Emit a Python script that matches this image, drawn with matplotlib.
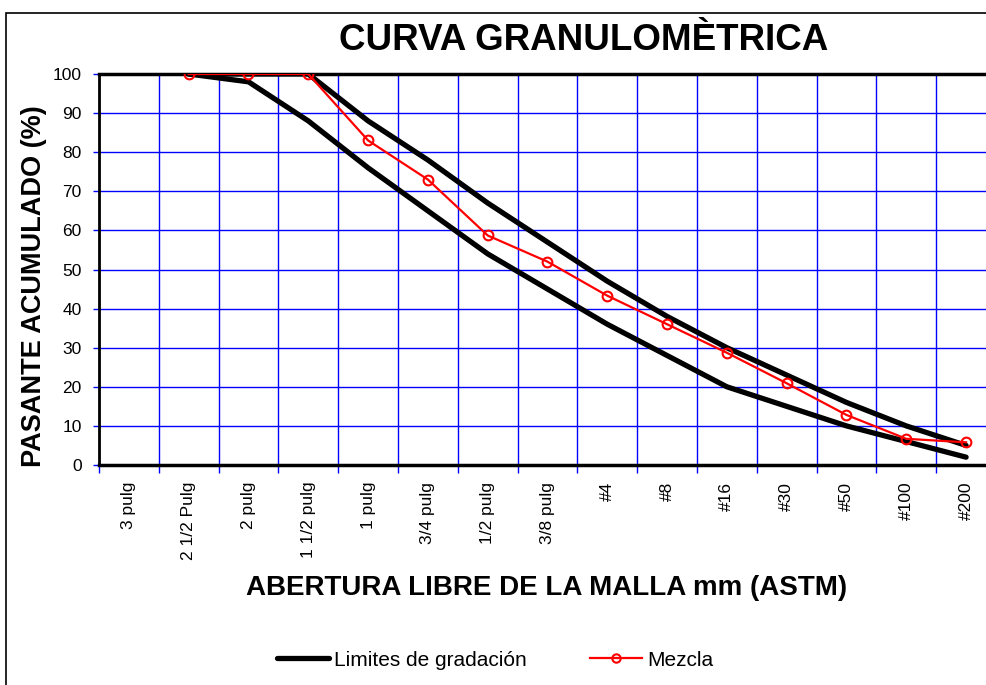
import numpy as np
import matplotlib.pyplot as plt
from matplotlib.lines import Line2D
from matplotlib.patches import Rectangle

plt.rcParams['font.family'] = ['Liberation Sans', 'DejaVu Sans']

# Data
tamices = ["3 pulg", "2 1/2 Pulg", "2 pulg", "1 1/2 pulg", "1 pulg", "3/4 pulg",
           "1/2 pulg", "3/8 pulg", "#4", "#8", "#16", "#30", "#50", "#100", "#200"]
lim_sup = [np.nan, 100, 100, 100, 88, 78, 67, 57, 47, 38, 30, 23, 16, 10, 5]
lim_inf = [np.nan, 100, 98, 88, 76, 65, 54, 45, 36, 28, 20, 15, 10, 6, 2]
mezcla = [np.nan, 100, 100, 100, 83, 73, 58.7, 52, 43.3, 36, 28.7, 20.9, 12.8, 6.7, 5.8]

fig = plt.figure(figsize=(9.87, 6.85), dpi=100)
ax = fig.add_axes([99 / 987, 1 - 465 / 685, 897 / 987, 391 / 685])

x = np.arange(len(tamices))

# Grid
ax.set_xlim(-0.5, len(tamices) - 0.5)
ax.set_ylim(0, 100)
ax.set_yticks(np.arange(0, 101, 10))
ax.set_xticks(x)
ax.set_xticks(np.arange(-0.5, len(tamices), 1), minor=True)
ax.grid(True, which='minor', axis='x', color='#0000ff', lw=1)
ax.grid(True, which='major', axis='y', color='#0000ff', lw=1)
ax.set_axisbelow(True)

# Curves
ax.plot(x, lim_sup, color='black', lw=3.8, solid_capstyle='round', zorder=3)
ax.plot(x, lim_inf, color='black', lw=3.8, solid_capstyle='round', zorder=3)
ax.plot(x, mezcla, color='red', lw=1.6, marker='o', ms=7, mfc='none',
        mec='red', mew=1.5, zorder=4)

# Axes styling
for s in ['left', 'top', 'bottom']:
    ax.spines[s].set_color('black')
ax.spines['left'].set_linewidth(2)
ax.spines['top'].set_linewidth(2.5)
ax.spines['bottom'].set_linewidth(2.5)
ax.spines['right'].set_visible(False)

ax.tick_params(axis='y', which='major', length=4.5, color='#0000ff', width=1,
               labelsize=12.5, pad=8)
ax.tick_params(axis='x', which='major', length=0, labelsize=12.5, pad=12)
ax.tick_params(axis='x', which='minor', length=6, color='#0000ff', width=1)
ax.set_xticklabels(tamices, rotation=90, va='top', ha='center')

# Texts
fig.text(584 / 987, 1 - 41 / 685, "CURVA GRANULOMÈTRICA", ha='center', va='center',
         fontsize=26.5, fontweight='bold')
fig.text(547 / 987, 1 - 588 / 685, "ABERTURA LIBRE DE LA MALLA mm (ASTM)",
         ha='center', va='center', fontsize=20, fontweight='bold')
fig.text(34 / 987, 1 - 286 / 685, "PASANTE ACUMULADO (%)", ha='center', va='center',
         rotation=90, fontsize=19.5, fontweight='bold')

# Legend
handles = [Line2D([], [], color='black', lw=3.8, solid_capstyle='round'),
           Line2D([], [], color='red', lw=1.6, marker='o', ms=6, mfc='none',
                  mec='red', mew=1.5)]
fig.legend(handles, ["Limites de gradación", "Mezcla"], loc='center',
           bbox_to_anchor=(495 / 987, 1 - 660 / 685), ncol=2, frameon=False,
           fontsize=15, handlelength=2.5, handletextpad=0.25, columnspacing=3.0,
           borderpad=0)

# Chart border
fig.patches.append(Rectangle((6 / 987, -0.1), 1.2, 1 - 13 / 685 + 0.1,
                             transform=fig.transFigure, fill=False,
                             edgecolor='black', lw=1.2))

fig.savefig("out.png", dpi=100)
